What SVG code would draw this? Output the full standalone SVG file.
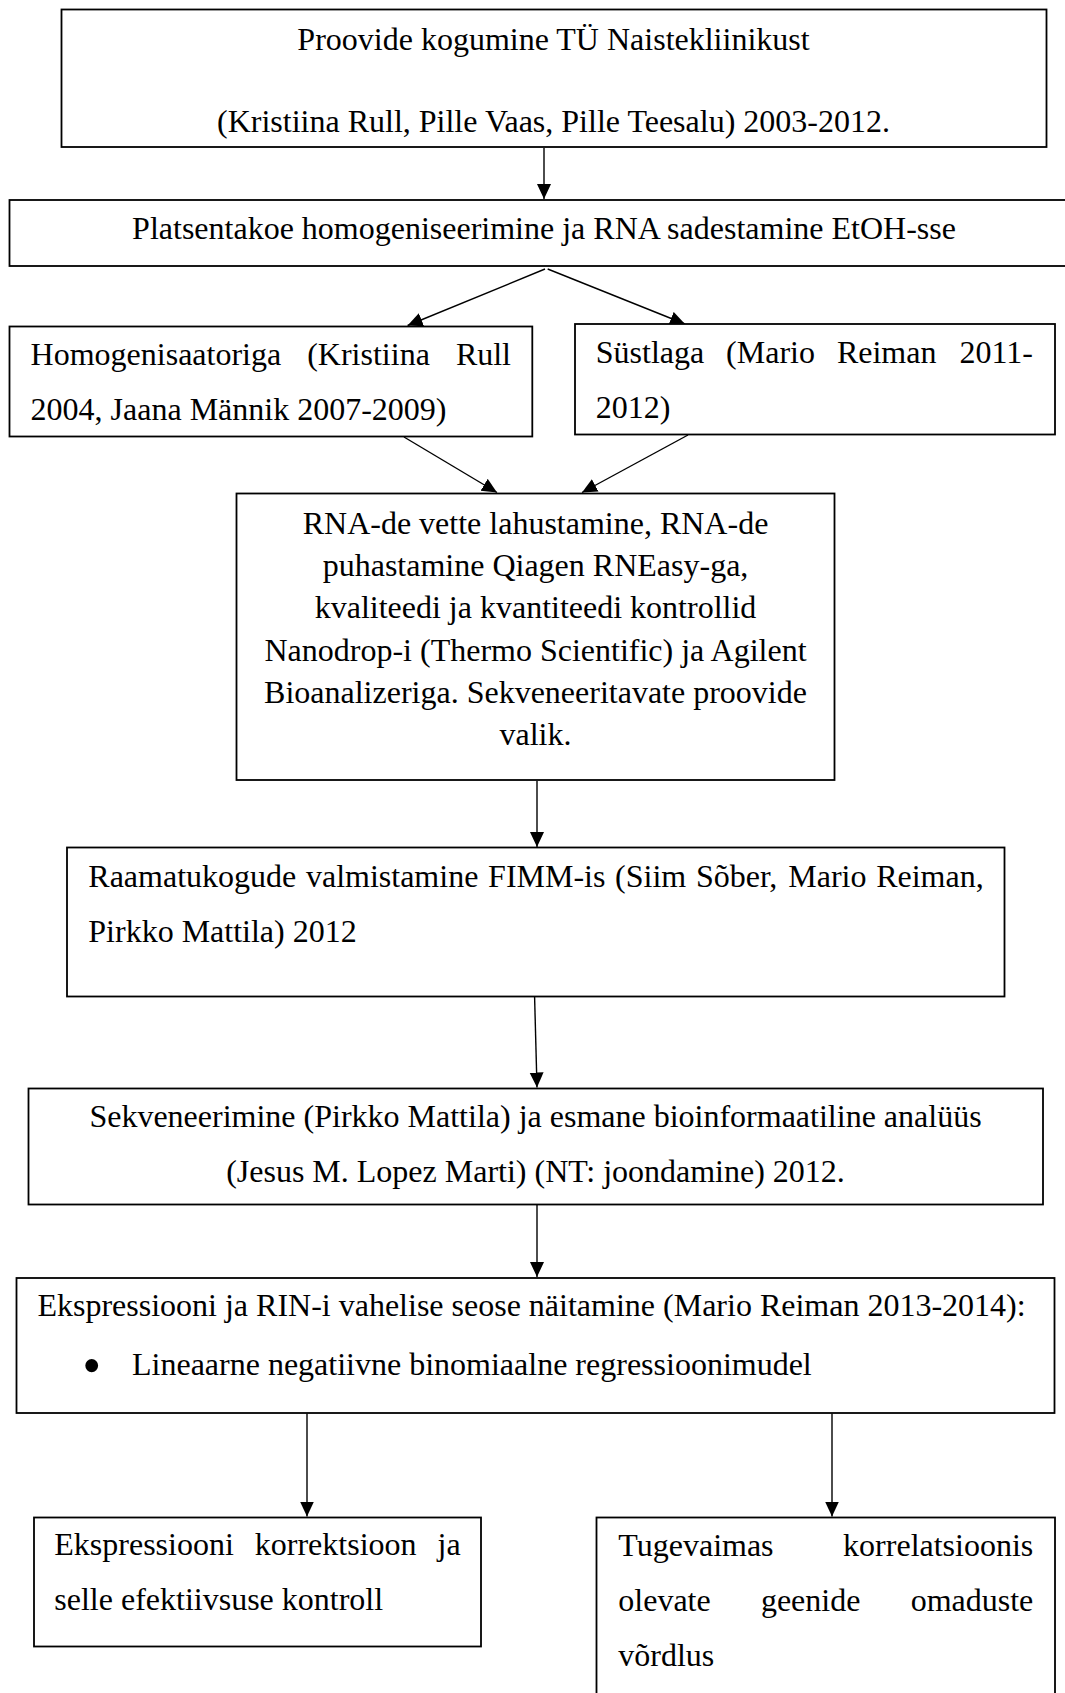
<svg xmlns="http://www.w3.org/2000/svg" width="1065" height="1693" viewBox="0 0 1065 1693">
<style>
.box{fill:#fff;stroke:#000;stroke-width:1.8}
.t{font-family:"Liberation Serif","Times New Roman",serif;font-size:32px;fill:#000}
.c{text-anchor:middle}
.e{text-anchor:end}
.con{stroke:#000;stroke-width:1.4;fill:none;marker-end:url(#ah)}
</style>
<defs>
<marker id="ah" markerUnits="userSpaceOnUse" markerWidth="16" markerHeight="15" refX="15" refY="7" orient="auto" viewBox="0 0 16 15">
<path d="M0,0 L15,7 L0,14 z" fill="#000"/>
</marker>
</defs>
<rect width="1065" height="1693" fill="#fff"/>
<g id="connectors">
<line class="con" x1="544" y1="148" x2="544" y2="199"/>
<line class="con" x1="545" y1="269" x2="407.6" y2="325.5"/>
<line class="con" x1="547.7" y1="269" x2="685" y2="324"/>
<line class="con" x1="404" y1="437" x2="497" y2="492.5"/>
<line class="con" x1="688" y1="435" x2="582" y2="492.5"/>
<line class="con" x1="537" y1="781" x2="537" y2="847"/>
<line class="con" x1="534.6" y1="997" x2="537" y2="1087.5"/>
<line class="con" x1="537" y1="1205" x2="537" y2="1277"/>
<line class="con" x1="307" y1="1413.5" x2="307" y2="1516.5"/>
<line class="con" x1="832" y1="1413.5" x2="832" y2="1516.5"/>
</g>
<g id="n1">
<rect class="box" x="61.5" y="9.5" width="985" height="137.5"/>
<text class="t c" x="553.5" y="50">Proovide kogumine TÜ Naistekliinikust</text>
<text class="t c" x="553.5" y="131.5">(Kristiina Rull, Pille Vaas, Pille Teesalu) 2003-2012.</text>
</g>
<g id="n2">
<rect class="box" x="9.5" y="200" width="1070" height="66"/>
<text class="t c" x="544" y="239">Platsentakoe homogeniseerimine ja RNA sadestamine EtOH-sse</text>
</g>
<g id="n3">
<rect class="box" x="9.5" y="326.5" width="522.8" height="110"/>
<text class="t" x="30.6" y="365">Homogenisaatoriga</text>
<text class="t" x="307.2" y="365">(Kristiina</text>
<text class="t e" x="511" y="365">Rull</text>
<text class="t" x="30.6" y="420">2004, Jaana Männik 2007-2009)</text>
</g>
<g id="n4">
<rect class="box" x="575" y="324" width="480" height="110.5"/>
<text class="t" x="595.8" y="363">Süstlaga</text>
<text class="t" x="726.1" y="363">(Mario</text>
<text class="t" x="836.9" y="363">Reiman</text>
<text class="t e" x="1033" y="363">2011-</text>
<text class="t" x="595.8" y="418">2012)</text>
</g>
<g id="n5">
<rect class="box" x="236.5" y="493.5" width="598" height="286.5"/>
<text class="t c" x="535.5" y="534">RNA-de vette lahustamine, RNA-de</text>
<text class="t c" x="535.5" y="576.2">puhastamine Qiagen RNEasy-ga,</text>
<text class="t c" x="535.5" y="618.4">kvaliteedi ja kvantiteedi kontrollid</text>
<text class="t c" x="535.5" y="660.6">Nanodrop-i (Thermo Scientific) ja Agilent</text>
<text class="t c" x="535.5" y="702.8">Bioanalizeriga. Sekveneeritavate proovide</text>
<text class="t c" x="535.5" y="745">valik.</text>
</g>
<g id="n6">
<rect class="box" x="67" y="847.5" width="937.5" height="149"/>
<text class="t" x="88.3" y="887">Raamatukogude</text>
<text class="t" x="305.95" y="887">valmistamine</text>
<text class="t" x="488.1" y="887">FIMM-is</text>
<text class="t" x="615.1" y="887">(Siim</text>
<text class="t" x="695.9" y="887">Sõber,</text>
<text class="t" x="788.3" y="887">Mario</text>
<text class="t e" x="983.7" y="887">Reiman,</text>
<text class="t" x="88.3" y="942">Pirkko Mattila) 2012</text>
</g>
<g id="n7">
<rect class="box" x="28.5" y="1088.5" width="1014.5" height="116"/>
<text class="t c" x="535.5" y="1127">Sekveneerimine (Pirkko Mattila) ja esmane bioinformaatiline analüüs</text>
<text class="t c" x="535.5" y="1182">(Jesus M. Lopez Marti) (NT: joondamine) 2012.</text>
</g>
<g id="n8">
<rect class="box" x="16.5" y="1278" width="1038" height="135"/>
<text class="t" x="37.4" y="1316">Ekspressiooni ja RIN-i vahelise seose näitamine (Mario Reiman 2013-2014):</text>
<text class="t" x="82.3" y="1384" style="font-size:54px">•</text>
<text class="t" x="132" y="1375">Lineaarne negatiivne binomiaalne regressioonimudel</text>
</g>
<g id="n9">
<rect class="box" x="34" y="1517.5" width="447" height="129"/>
<text class="t" x="54.3" y="1555">Ekspressiooni</text>
<text class="t" x="254.8" y="1555">korrektsioon</text>
<text class="t e" x="460.6" y="1555">ja</text>
<text class="t" x="54.3" y="1610">selle efektiivsuse kontroll</text>
</g>
<g id="n10">
<rect class="box" x="596.5" y="1517.5" width="458.5" height="190"/>
<text class="t" x="618.3" y="1556">Tugevaimas</text>
<text class="t e" x="1033.3" y="1556">korrelatsioonis</text>
<text class="t" x="618.3" y="1611">olevate</text>
<text class="t" x="760.9" y="1611">geenide</text>
<text class="t e" x="1033.3" y="1611">omaduste</text>
<text class="t" x="618.3" y="1666">võrdlus</text>
</g>
</svg>
